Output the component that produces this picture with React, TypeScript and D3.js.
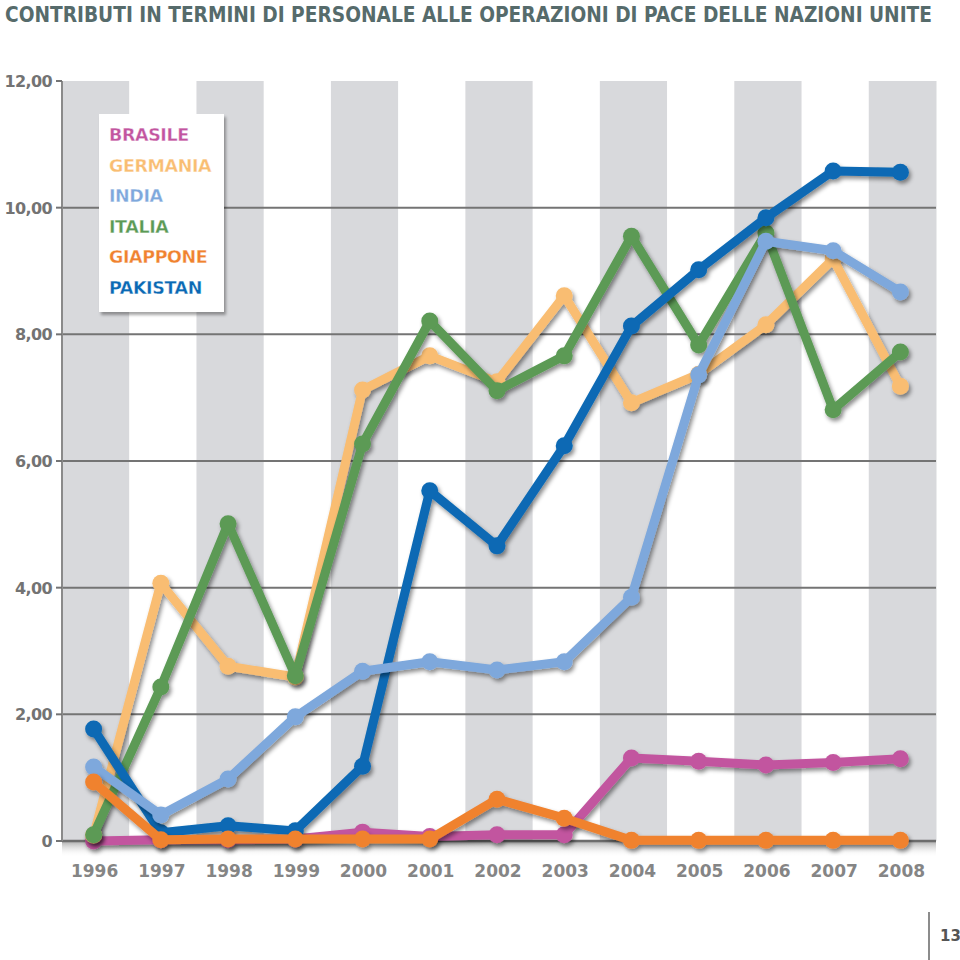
import React from "react";
import * as d3 from "d3";

const years = ["1996","1997","1998","1999","2000","2001","2002","2003","2004","2005","2006","2007","2008"];
const yTicks = [0, 2, 4, 6, 8, 10, 12];
const yTickLabels = ["0", "2,00", "4,00", "6,00", "8,00", "10,00", "12,00"];

const brasile = [0.0, 0.02, 0.02, 0.03, 0.14, 0.07, 0.1, 0.1, 1.31, 1.26, 1.2, 1.24, 1.3];
const germania = [0.09, 4.07, 2.76, 2.59, 7.12, 7.66, 7.25, 8.61, 6.92, 7.37, 8.15, 9.19, 7.18];
const india = [1.17, 0.41, 0.98, 1.96, 2.68, 2.83, 2.7, 2.83, 3.85, 7.36, 9.47, 9.32, 8.67];
const italia = [0.1, 2.43, 5.01, 2.61, 6.27, 8.21, 7.11, 7.66, 9.55, 7.83, 9.6, 6.81, 7.72];
const giappone = [0.93, 0.02, 0.03, 0.03, 0.03, 0.03, 0.66, 0.36, 0.01, 0.01, 0.01, 0.01, 0.01];
const pakistan = [1.77, 0.13, 0.24, 0.16, 1.18, 5.53, 4.66, 6.24, 8.13, 9.02, 9.84, 10.58, 10.56];

const legendNames = ["BRASILE", "GERMANIA", "INDIA", "ITALIA", "GIAPPONE", "PAKISTAN"];
const colors: Record<string, string> = {
  BRASILE: "#c2559f",
  GERMANIA: "#f9bd72",
  INDIA: "#7ea8dc",
  ITALIA: "#5b9a55",
  GIAPPONE: "#f0822f",
  PAKISTAN: "#0a69b4",
};
const seriesData: Record<string, number[]> = {
  BRASILE: brasile,
  GERMANIA: germania,
  INDIA: india,
  ITALIA: italia,
  GIAPPONE: giappone,
  PAKISTAN: pakistan,
};
const drawOrder = ["BRASILE", "GERMANIA", "ITALIA", "PAKISTAN", "INDIA", "GIAPPONE"];

const W = 960, H = 960;
const L = 62, R = 936, T = 81, B = 841;

export default function App() {
  const band = d3.scaleBand<string>().domain(years).range([L, R]).padding(0);
  const x = (i: number) => (band(years[i]) as number) + band.bandwidth() / 2 - 2;
  const y = d3.scaleLinear().domain([0, 12]).range([B, T]);
  const line = d3.line<number>().x((_, i) => x(i)).y((d) => y(d));
  const font = "'DejaVu Sans', Verdana, sans-serif";

  return (
    <svg width={W} height={H} style={{ position: "absolute", left: 0, top: 0, background: "#fff" }}>
      <defs>
        <linearGradient id="btm" x1="0" y1="0" x2="0" y2="1">
          <stop offset="0" stopColor="#a9a9a9" />
          <stop offset="1" stopColor="#ffffff" stopOpacity="0" />
        </linearGradient>
        <filter id="sh" x="-10%" y="-10%" width="130%" height="130%">
          <feDropShadow dx="2" dy="3" stdDeviation="1.5" floodColor="#000" floodOpacity="0.35" />
        </filter>
        <filter id="lsh" x="-10%" y="-10%" width="130%" height="130%">
          <feDropShadow dx="2" dy="3" stdDeviation="2" floodColor="#000" floodOpacity="0.45" />
        </filter>
      </defs>
      <text x={5} y={22} fontFamily="'Liberation Sans Narrow', 'DejaVu Sans Condensed', sans-serif" fontWeight="bold"
        fontSize={21} fill="#566b6b" textLength={927} lengthAdjust="spacingAndGlyphs">
        CONTRIBUTI IN TERMINI DI PERSONALE ALLE OPERAZIONI DI PACE DELLE NAZIONI UNITE
      </text>
      {/* bottom shadow */}
      <rect x={L} y={B} width={R - L} height={16} fill="url(#btm)" />
      {/* bands */}
      {years.map((yr, i) => (
        <rect key={yr} x={band(yr) as number} y={T} width={band.bandwidth() + 0.5} height={B - T}
          fill={i % 2 === 0 ? "#d8d9dc" : "#ffffff"} />
      ))}
      {/* gridlines */}
      {yTicks.filter((t) => t > 0 && t < 12).map((t) => (
        <line key={t} x1={L} x2={R} y1={y(t)} y2={y(t)} stroke="#747474" strokeWidth={2} />
      ))}
      <line x1={L} x2={R} y1={B} y2={B} stroke="#6d6d6d" strokeWidth={2.5} />
      <line x1={L} x2={L} y1={T} y2={B} stroke="#8a8a8a" strokeWidth={2} />
      {yTicks.map((t, i) => (
        <g key={t}>
          <line x1={L - 6} x2={L} y1={y(t)} y2={y(t)} stroke="#747474" strokeWidth={2} />
          <text x={52} y={y(t) + 6} textAnchor="end" fontFamily={font} fontWeight="bold" fontSize={16}
            fill="#737373" letterSpacing={-0.6}>
            {yTickLabels[i]}
          </text>
        </g>
      ))}
      {years.map((yr, i) => (
        <text key={yr} x={x(i) + 1} y={877} textAnchor="middle" fontFamily={font} fontWeight="bold" fontSize={17} fill="#858585">
          {yr}
        </text>
      ))}
      {/* series */}
      {drawOrder.map((name) => (
        <g key={name} filter="url(#lsh)">
          <path d={line(seriesData[name]) as string} fill="none" stroke={colors[name]} strokeWidth={9} strokeLinejoin="round" />
          {seriesData[name].map((v, i) => (
            <circle key={i} cx={x(i)} cy={y(v)} r={8.5} fill={colors[name]} />
          ))}
        </g>
      ))}
      {/* legend */}
      <rect x={99} y={114} width={125} height={198} fill="#ffffff" filter="url(#sh)" />
      {legendNames.map((n, i) => (
        <text key={n} x={109} y={141 + i * 30.6} fontFamily={font} fontWeight="bold" fontSize={17.5}
          fill={colors[n]} stroke="#ffffff" strokeWidth={0.3} letterSpacing={-0.4}>
          {n}
        </text>
      ))}
      {/* page number */}
      <line x1={929} x2={929} y1={912} y2={960} stroke="#666" strokeWidth={1.5} />
      <text x={940} y={941} fontFamily={font} fontWeight="bold" fontSize={15} fill="#555">13</text>
    </svg>
  );
}
